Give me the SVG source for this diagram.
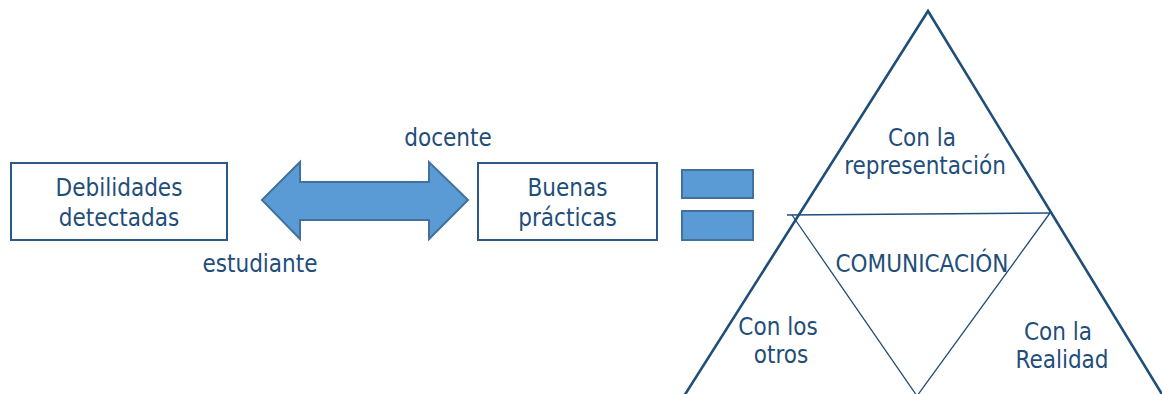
<svg xmlns="http://www.w3.org/2000/svg" width="1162" height="394" viewBox="0 0 1162 394">
<style>
  text { font-family: "DejaVu Sans Condensed", "DejaVu Sans", sans-serif; font-size: 24px; fill: #1f4e79; text-anchor: middle; }
  .box { fill: #ffffff; stroke: #2b5885; stroke-width: 2; }
  .blue { fill: #5b9bd5; stroke: #41719c; stroke-width: 2; }
  .tri { fill: none; stroke: #1f4e79; stroke-width: 2.6; }
  .thin { fill: none; stroke: #1f4e79; stroke-width: 1.3; }
</style>
<rect width="1162" height="394" fill="#ffffff"/>
<g id="debilidades">
  <rect class="box" x="11" y="163" width="216" height="77"/>
  <text x="119" y="196">Debilidades</text>
  <text x="119" y="226">detectadas</text>
</g>
<g id="connectors">
  <polygon class="blue" points="262,200 300,162 300,182 429,182 429,162 468,200 429,239 429,220 300,220 300,239"/>
</g>
<text x="448" y="146">docente</text>
<text x="260" y="272">estudiante</text>
<g id="buenas">
  <rect class="box" x="478" y="163" width="179" height="77"/>
  <text x="567.5" y="196">Buenas</text>
  <text x="567.5" y="226">prácticas</text>
</g>
<g id="igual">
  <rect class="blue" x="682" y="170" width="71" height="28"/>
  <rect class="blue" x="682" y="211" width="71" height="29"/>
</g>
<g id="triangulo">
  <polyline class="tri" points="679,404 928,11 1168,404"/>
  <line class="thin" x1="787" y1="215" x2="1050" y2="213"/>
  <polyline class="thin" points="792,215 917,396 1050,213"/>
  <text x="922" y="146">Con la</text>
  <text x="925" y="174">representación</text>
  <text x="922" y="272">COMUNICACIÓN</text>
  <text x="778" y="335">Con los</text>
  <text x="781" y="363">otros</text>
  <text x="1058" y="340">Con la</text>
  <text x="1062" y="368">Realidad</text>
</g>
</svg>
